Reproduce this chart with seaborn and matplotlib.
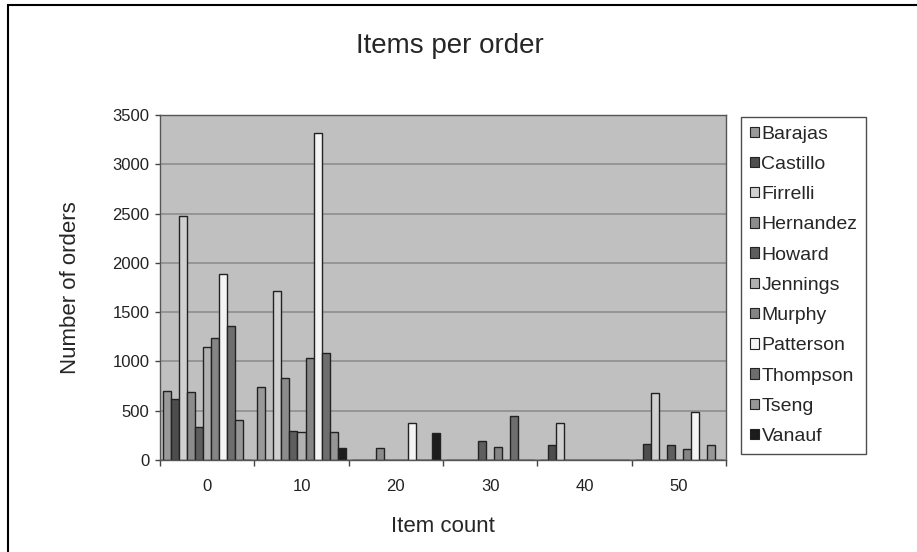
import matplotlib.pyplot as plt
import matplotlib.patches as mpatches
import numpy as np
import pandas as pd
import seaborn as sns

item_counts = ['0', '10', '20', '30', '40', '50']
reps = ['Barajas', 'Castillo', 'Firrelli', 'Hernandez', 'Howard', 'Jennings',
        'Murphy', 'Patterson', 'Thompson', 'Tseng', 'Vanauf']

# orders per item-count bucket, one list per rep
barajas = [700, 745, 0, 0, 0, 0]
castillo = [620, 0, 0, 0, 155, 165]
firrelli = [2480, 1710, 0, 0, 380, 675]
hernandez = [690, 830, 120, 0, 0, 0]
howard = [330, 295, 0, 190, 0, 155]
jennings = [1150, 285, 0, 0, 0, 0]
murphy = [1240, 1030, 0, 130, 0, 110]
patterson = [1890, 3320, 380, 0, 0, 490]
thompson = [1360, 1090, 0, 450, 0, 0]
tseng = [410, 285, 0, 0, 0, 155]
vanauf = [0, 120, 270, 0, 0, 0]

colors = ['#999999', '#4d4d4d', '#d0d0d0', '#8c8c8c', '#5e5e5e', '#b2b2b2',
          '#858585', '#f4f4f4', '#6e6e6e', '#969696', '#1c1c1c']

series = [barajas, castillo, firrelli, hernandez, howard, jennings,
          murphy, patterson, thompson, tseng, vanauf]
rows = []
for rep, vals in zip(reps, series):
    for cnt, v in zip(item_counts, vals):
        rows.append({'Item count': cnt, 'Rep': rep, 'Orders': v})
df = pd.DataFrame(rows)

sns.set_style('white')
plt.rcParams['font.family'] = ['Liberation Sans', 'DejaVu Sans']

fig = plt.figure(figsize=(9.17, 5.52), dpi=100)
ax = fig.add_axes([160 / 917, 1 - 460 / 552, 566 / 917, 345 / 552])
ax.set_facecolor('#c0c0c0')

sns.barplot(data=df, x='Item count', y='Orders', hue='Rep', hue_order=reps,
            order=item_counts, palette=colors, width=0.935, ax=ax,
            edgecolor='#222222', linewidth=1, legend=False, errorbar=None)

ax.set_ylim(0, 3500)
ax.set_xlim(-0.5, 5.5)
ax.set_yticks(np.arange(0, 3501, 500))
ax.yaxis.grid(True, color='#8e8e8e', linewidth=1.2)
ax.set_axisbelow(True)
ax.tick_params(axis='y', labelsize=12, length=3.6, width=1, color='#444444',
               direction='out', left=True, pad=4, labelcolor='#222222')
ax.set_xticks(range(6))
ax.set_xticklabels(item_counts)
ax.set_xticks(np.arange(-0.5, 6, 1), minor=True)
ax.tick_params(axis='x', which='major', length=0, labelsize=12, pad=14,
               labelcolor='#222222')
ax.tick_params(axis='x', which='minor', length=4.3, width=1, color='#444444',
               direction='out', bottom=True)
for s in ax.spines.values():
    s.set_visible(True)
    s.set_color('#555555')
    s.set_linewidth(1)

ax.set_xlabel('Item count', fontsize=16)
ax.xaxis.label.set_va('center')
ax.xaxis.set_label_coords(0.5, (460 - 527) / 345)
ax.set_ylabel('Number of orders', fontsize=16)
ax.yaxis.label.set_va('center')
ax.yaxis.set_label_coords((70 - 160) / 566, 0.5)

fig.text(450 / 917, 1 - 53 / 552, 'Items per order', fontsize=20,
         ha='center', va='baseline')

handles = [mpatches.Patch(facecolor=c, edgecolor='#222222', linewidth=0.8, label=r)
           for r, c in zip(reps, colors)]
leg = fig.legend(handles=handles, loc='upper left',
                 bbox_to_anchor=(741 / 917, 1 - 117 / 552),
                 fontsize=14, frameon=True, fancybox=False, borderpad=0.45,
                 handlelength=0.45, handleheight=0.45, handletextpad=0.15,
                 labelspacing=0.68, borderaxespad=0)
leg.get_frame().set_edgecolor('#222222')
leg.get_frame().set_linewidth(1)

# chart border
fig.patches.append(mpatches.Rectangle((8 / 917, -0.05), 1.1, 1 - 5 / 552 + 0.05,
                                      transform=fig.transFigure, fill=False,
                                      edgecolor='black', linewidth=1.5))

fig.savefig('out.png', dpi=100)
